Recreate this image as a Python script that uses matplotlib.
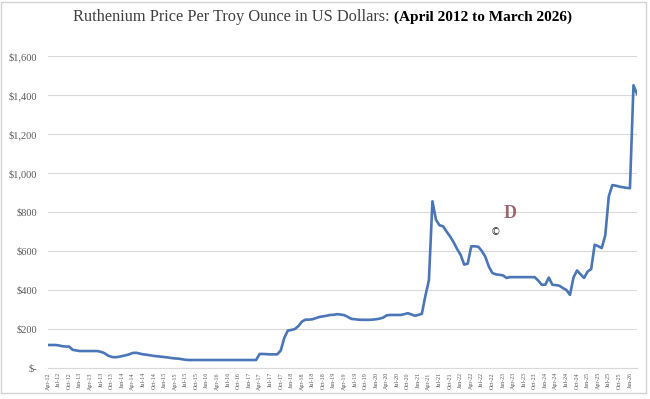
import numpy as np
import matplotlib.pyplot as plt
from matplotlib.patches import Rectangle
from matplotlib.ticker import FuncFormatter, FixedLocator

# monthly prices, Apr-2012 .. Mar-2026 (USD per troy ounce)
prices_2012 = [118, 118, 118, 116, 112, 110, 110, 93, 90]
prices_2013 = [87, 87, 87, 87, 87, 87, 83, 76, 64, 57, 55, 57]
prices_2014 = [61, 65, 70, 77, 78, 74, 70, 68, 65, 62, 60, 58]
prices_2015 = [56, 54, 51, 49, 48, 45, 42, 41, 41, 41, 41, 41]
prices_2016 = [41, 41, 41, 41, 41, 41, 41, 41, 41, 41, 41, 41]
prices_2017 = [41, 41, 41, 72, 72, 71, 70, 70, 70, 90, 155, 192]
prices_2018 = [195, 200, 215, 238, 248, 248, 250, 256, 262, 265, 268, 272]
prices_2019 = [273, 276, 274, 271, 262, 252, 250, 248, 247, 247, 247, 248]
prices_2020 = [250, 253, 258, 270, 272, 272, 272, 272, 276, 281, 275, 268]
prices_2021 = [272, 278, 370, 450, 855, 760, 732, 727, 700, 675, 645, 610]
prices_2022 = [580, 530, 535, 624, 624, 622, 600, 570, 520, 487, 480, 478]
prices_2023 = [475, 462, 466, 466, 466, 466, 466, 466, 466, 466, 448, 427]
prices_2024 = [427, 464, 427, 425, 422, 410, 400, 375, 465, 500, 480, 462]
prices_2025 = [495, 507, 632, 625, 615, 680, 880, 938, 935, 930, 927, 924]
prices_2026 = [922, 1450, 1405]

prices = (prices_2012 + prices_2013 + prices_2014 + prices_2015 + prices_2016
          + prices_2017 + prices_2018 + prices_2019 + prices_2020 + prices_2021
          + prices_2022 + prices_2023 + prices_2024 + prices_2025 + prices_2026)

month_names = ['Jan', 'Feb', 'Mar', 'Apr', 'May', 'Jun', 'Jul', 'Aug', 'Sep', 'Oct', 'Nov', 'Dec']
labels = []
for k in range(len(prices)):
    m = (3 + k) % 12
    y = 2012 + (3 + k) // 12
    labels.append(f'{month_names[m]}-{y % 100:02d}')

plt.rcParams['font.family'] = ['Liberation Serif', 'DejaVu Serif']

fig = plt.figure(figsize=(6.5, 3.99), dpi=100)
ax = fig.add_axes([48 / 650, 1 - 368 / 399, (637 - 48) / 650, (368 - 56) / 399])

x = np.arange(len(prices))
ax.plot(x, prices, color='#4a76b8', linewidth=1.9, solid_joinstyle='round')

ax.set_xlim(0, len(prices) - 1)
ax.set_ylim(0, 1600)
ax.set_yticks(np.arange(0, 1601, 200))
ax.yaxis.set_major_formatter(FuncFormatter(lambda v, p: '$-' if v == 0 else f'${v:,.0f}'))
tick_pos = x[::3]
ax.xaxis.set_major_locator(FixedLocator(tick_pos))
ax.set_xticklabels([labels[i] for i in tick_pos], rotation=90, fontsize=4.3, color='#595959')
ax.tick_params(axis='y', labelsize=7.5, labelcolor='#595959', length=0, pad=8)
ax.tick_params(axis='x', length=0, pad=3)

ax.grid(axis='y', color='#d9d9d9', linewidth=0.8)
ax.set_axisbelow(True)
for s in ['top', 'right', 'left']:
    ax.spines[s].set_visible(False)
ax.spines['bottom'].set_color('#d9d9d9')
ax.spines['bottom'].set_linewidth(0.8)

# title in two weights
fig.text(390 / 650, 0.957, 'Ruthenium Price Per Troy Ounce in US Dollars:', ha='right', va='center',
         fontsize=11.75, color='#404040')
fig.text(393.5 / 650, 0.957, '(April 2012 to March 2026)', ha='left', va='center',
         fontsize=11.0, color='black', fontweight='bold')

# watermark
fig.text(510 / 650, 1 - 213 / 399, 'D', ha='center', va='center', fontsize=13,
         color='#8a4a5c', fontweight='bold', alpha=0.85)
fig.text(495 / 650, 1 - 232 / 399, '©', ha='center', va='center', fontsize=7, color='#333333',
         family=['DejaVu Sans'])

fig.patches.append(Rectangle((1 / 650, 1 - 393 / 399), 645 / 650, 391 / 399, transform=fig.transFigure,
                             fill=False, edgecolor='#d4d4d4', linewidth=1))

fig.savefig('out.png', dpi=100)
